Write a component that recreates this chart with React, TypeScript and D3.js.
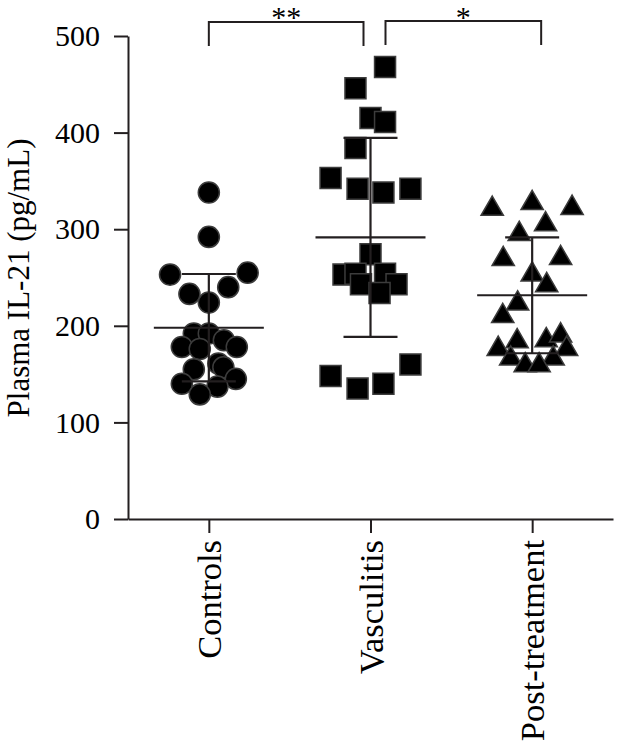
import React, { useRef, useEffect } from 'react';
import * as d3 from 'd3';

// groups on the x axis
const categories = ['Controls', 'Vasculitis', 'Post-treatment'];

// plasma IL-21 (pg/mL) per subject
const controls = [338, 292, 253, 255, 233, 240, 224, 192, 192, 185, 178, 176, 178, 155, 161, 157, 140, 145, 137, 129];
const vasculitis = [468, 446, 415, 411, 384, 353, 342, 338, 342, 274, 253, 254, 254, 243, 243, 234, 160, 148, 140, 135];
const postTreatment = [321, 327, 322, 305, 295, 269, 270, 253, 242, 223, 210, 184, 185, 190, 176, 176, 166, 166, 159, 159];

// horizontal scatter of the markers, as a fraction of the column step
const controlsJitter = [0, 0, -0.24, 0.24, -0.12, 0.12, 0, -0.093, 0, 0.093, -0.167, -0.056, 0.173, -0.093, 0.059, 0.09, -0.167, 0.167, 0.053, -0.056];
const vasculitisJitter = [0.09, -0.093, 0, 0.09, -0.093, -0.247, -0.08, 0.08, 0.247, 0, -0.167, -0.093, 0.09, -0.059, 0.161, 0.056, 0.247, -0.247, 0.08, -0.08];
const postJitter = [-0.247, 0, 0.247, 0.083, -0.08, -0.179, 0.176, 0, 0.09, -0.09, -0.182, -0.093, 0.087, 0.176, -0.21, 0.213, -0.133, 0.13, -0.043, 0.043];

// mean and SD bars
const means = [198, 291.6, 231.6];
const sds = [55.6, 103, 60];

// y ticks
const yTicks = [0, 100, 200, 300, 400, 500];

// significance brackets
const brackets = [
  { from: 'Controls', to: 'Vasculitis', label: '**' },
  { from: 'Vasculitis', to: 'Post-treatment', label: '*' },
];

const INK = '#231f20';

const App = () => {
  const svgRef = useRef(null);

  useEffect(() => {
    const width = 617;
    const height = 742;
    const svg = d3.select(svgRef.current);
    svg.selectAll('*').remove();
    svg.attr('width', width).attr('height', height).style('background', '#fff');

    const font = "'Liberation Serif', 'Times New Roman', serif";

    const x = d3.scalePoint().domain(categories).range([128, 613]).padding(0.5);
    const y = d3.scaleLinear().domain([0, 500]).range([519, 36]);
    const step = x.step();

    // y axis
    const yAxis = svg.append('g')
      .attr('transform', 'translate(128,0)')
      .call(d3.axisLeft(y).tickValues(yTicks).tickSize(14).tickPadding(14).tickSizeOuter(0));
    yAxis.select('.domain').attr('stroke', INK).attr('stroke-width', 2);
    yAxis.selectAll('.tick line').attr('stroke', INK).attr('stroke-width', 2);
    yAxis.selectAll('.tick text')
      .attr('font-family', font).attr('font-size', 30).attr('fill', '#000');

    // x axis
    const xAxis = svg.append('g')
      .attr('transform', `translate(0,${y(0)})`)
      .call(d3.axisBottom(x).tickSize(14).tickSizeOuter(0).tickFormat(() => ''));
    xAxis.select('.domain').attr('stroke', INK).attr('stroke-width', 2);
    xAxis.selectAll('.tick line').attr('stroke', INK).attr('stroke-width', 2);

    // rotated category labels
    svg.append('g').selectAll('text')
      .data(categories)
      .join('text')
      .attr('transform', d => `translate(${x(d) + 12},540) rotate(-90)`)
      .attr('text-anchor', 'end')
      .attr('font-family', font)
      .attr('font-size', 34.5)
      .attr('fill', '#000')
      .text(d => d);

    // y axis title
    svg.append('text')
      .attr('transform', 'translate(29,278) rotate(-90)')
      .attr('text-anchor', 'middle')
      .attr('font-family', font)
      .attr('font-size', 31)
      .attr('fill', '#000')
      .text('Plasma IL-21 (pg/mL)');

    // markers
    const groups = [
      { name: 'Controls', values: controls, jitter: controlsJitter, symbol: d3.symbolCircle, size: 350 },
      { name: 'Vasculitis', values: vasculitis, jitter: vasculitisJitter, symbol: d3.symbolSquare, size: 441 },
      { name: 'Post-treatment', values: postTreatment, jitter: postJitter, symbol: d3.symbolTriangle, size: 215 },
    ];

    groups.forEach(grp => {
      const sym = d3.symbol().type(grp.symbol).size(grp.size);
      svg.append('g').selectAll('path')
        .data(grp.values)
        .join('path')
        .attr('d', sym)
        .attr('transform', (v, i) => `translate(${x(grp.name) + grp.jitter[i] * step},${y(v)})`)
        .attr('fill', '#000')
        .attr('stroke', '#3c3c3c')
        .attr('stroke-width', 1.5);
    });

    // mean +/- SD
    const bars = svg.append('g').attr('stroke', INK).attr('stroke-width', 2.2);
    categories.forEach((c, i) => {
      const cx = x(c);
      const hi = y(means[i] + sds[i]);
      const lo = y(means[i] - sds[i]);
      bars.append('line').attr('x1', cx - 55).attr('x2', cx + 55).attr('y1', y(means[i])).attr('y2', y(means[i]));
      bars.append('line').attr('x1', cx).attr('x2', cx).attr('y1', hi).attr('y2', lo);
      bars.append('line').attr('x1', cx - 27).attr('x2', cx + 27).attr('y1', hi).attr('y2', hi);
      bars.append('line').attr('x1', cx - 27).attr('x2', cx + 27).attr('y1', lo).attr('y2', lo);
    });

    // significance brackets
    const bracketPos = [
      { x1: x(brackets[0].from), x2: x(brackets[0].to) - 7, top: 22, bottom: 46 },
      { x1: x(brackets[1].from) + 15, x2: x(brackets[1].to) + 9, top: 21, bottom: 45 },
    ];
    brackets.forEach((b, i) => {
      const p = bracketPos[i];
      svg.append('path')
        .attr('d', `M${p.x1},${p.bottom}V${p.top}H${p.x2}V${p.bottom}`)
        .attr('fill', 'none')
        .attr('stroke', INK)
        .attr('stroke-width', 2);
      svg.append('text')
        .attr('x', (p.x1 + p.x2) / 2)
        .attr('y', 27)
        .attr('text-anchor', 'middle')
        .attr('font-family', font)
        .attr('font-size', 30)
        .attr('fill', '#000')
        .text(b.label);
    });
  }, []);

  return (
    <div style={{ position: 'absolute', left: 0, top: 0 }}>
      <svg ref={svgRef} style={{ display: 'block' }}></svg>
    </div>
  );
};

export default App;
